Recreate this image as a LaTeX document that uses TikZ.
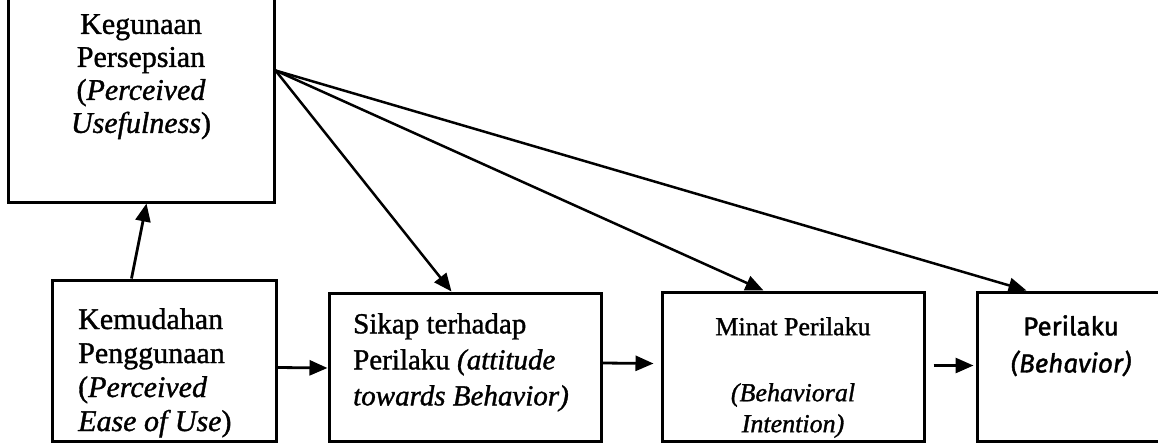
\documentclass[tikz,border=0pt]{standalone}
\usepackage{fontspec}
\setmainfont{Liberation Serif}[RawFeature={embolden=1.2}]
\newfontfamily\boxsans{Fira Sans}[RawFeature={embolden=1.5}]
\usetikzlibrary{arrows.meta,calc}
\begin{document}
\begin{tikzpicture}[x=1pt,y=-1pt,
  box/.style={draw,line width=3pt,inner sep=0pt},
  txt/.style={inner sep=0pt,align=#1},
  txt/.default=center,
  arr/.style={line width=2.8pt,-{Triangle[length=18pt,width=15pt]}},
  diag/.style={line width=2.5pt,-{Triangle[length=18pt,width=15pt]}}]
\useasboundingbox (0,0) rectangle (1158,444);
% boxes
\node[box,minimum width=266pt,minimum height=207pt] (k1) at (141,98.5) {};
\node[box,minimum width=224pt,minimum height=161pt] (k2) at (164,360.5) {};
\node[box,minimum width=272pt,minimum height=148pt] (k3) at (465,367) {};
\node[box,minimum width=262pt,minimum height=149pt] (k4) at (793,366.5) {};
\node[box,minimum width=200pt,minimum height=149pt] (k5) at (1077,366.5) {};
% texts
\node[txt,anchor=north,font=\fontsize{30}{33}\selectfont] (t1) at (141,14)
  {Kegunaan\\Persepsian\\(\textit{Perceived}\\\textit{Usefulness})};
\node[txt=left,anchor=north west,font=\fontsize{30}{34}\selectfont] (t2) at (78,308)
  {Kemudahan\\Penggunaan\\(\textit{Perceived}\\\textit{Ease of Use})};
\node[txt=left,anchor=north west,font=\fontsize{29}{36}\selectfont] (t3) at (353,313)
  {Sikap terhadap\\Perilaku \textit{(attitude}\\\textit{towards Behavior)}};
\node[txt,anchor=north,font=\fontsize{26}{31}\selectfont] (t4) at (793,317)
  {Minat Perilaku\\[35pt]\textit{(Behavioral}\\\textit{Intention)}};
\node[txt,anchor=north,font=\boxsans\fontsize{26}{37}\selectfont] (t5) at (1071,315)
  {Perilaku\\\textit{(Behavior)}};
% connectors
\coordinate (src) at ($(k1.north east)+(0,77)$);
\draw[arr] ($(k2.north west)+(81,0)$) -- ($(k1.south west)+(140,0)$);
\draw[diag] (src) -- ($(k3.north west)+(124,0)$);
\draw[diag] (src) -- ($(k4.north west)+(103,0)$);
\draw[diag] (src) -- ($(k5.north west)+(51,0)$);
\draw[arr] ($(k2.east)+(0,7)$) -- ($(k3.west)+(0,1)$);
\draw[arr] ($(k3.east)+(0,-4)$) -- ($(k4.west)+(-7,-3)$);
\draw[arr] ($(k4.east)+(8,-1)$) -- ($(k5.west)+(-2,-1)$);
\end{tikzpicture}
\end{document}
